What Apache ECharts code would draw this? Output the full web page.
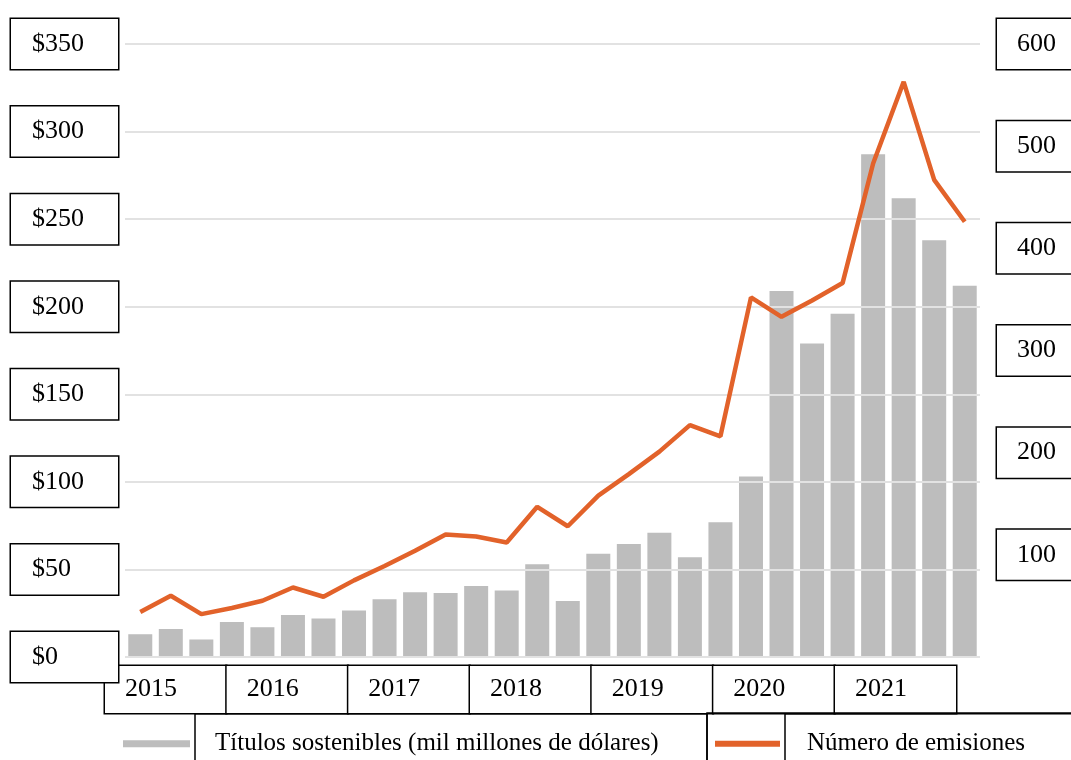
<!DOCTYPE html>
<html>
<head>
<meta charset="utf-8">
<script src="https://cdn.jsdelivr.net/npm/echarts@6/dist/echarts.min.js"></script>
<style>
  html, body { margin: 0; padding: 0; background: #fff; }
  #chart { width: 1071px; height: 760px; }
</style>
</head>
<body>
<div id="chart"></div>
<script>
const quarters = [
  '2015T1', '2015T2', '2015T3', '2015T4',
  '2016T1', '2016T2', '2016T3', '2016T4',
  '2017T1', '2017T2', '2017T3', '2017T4',
  '2018T1', '2018T2', '2018T3', '2018T4',
  '2019T1', '2019T2', '2019T3', '2019T4',
  '2020T1', '2020T2', '2020T3', '2020T4',
  '2021T1', '2021T2', '2021T3', '2021T4',
];
// miles de millones de dólares
const bonds = [
  13, 16, 10, 20, 17, 24, 22, 26.5,
  33, 37, 36.5, 40.5, 38, 53, 32, 59,
  64.5, 71, 57, 77, 103, 209, 179, 196,
  287, 262, 238, 212,
];
// número de emisiones
const issues = [
  44, 60, 42, 48, 55, 68, 59, 75,
  89, 104, 120, 118, 112, 147, 128, 158,
  179, 201, 227, 216, 352, 333, 349, 366,
  483, 563, 467, 426,
];
const years = ['2015', '2016', '2017', '2018', '2019', '2020', '2021'];
const barName = 'Títulos sostenibles (mil millones de dólares)';
const lineName = 'Número de emisiones';

const chart = () => {
  const block = document.getElementById('chart');
  const serif = 'Liberation Serif';

  const boxLabel = {
    fontFamily: serif,
    fontSize: 26,
    color: '#000',
    backgroundColor: '#fff',
    borderColor: '#000',
    borderWidth: 1.5,
  };

  const option = {
    animation: false,
    grid: [
      { left: 125, right: 91, top: 44, bottom: 103, containLabel: false, outerBoundsMode: 'none' },
      // year boxes start at each tick, one box per year
      { left: 105, right: 236, top: 44, bottom: 103, containLabel: false, outerBoundsMode: 'none' },
    ],
    legend: [
      {
        left: 123,
        top: 713,
        padding: 0,
        itemWidth: 67,
        itemHeight: 7,
        icon: 'rect',
        data: [barName],
        textStyle: {
          fontFamily: serif,
          fontSize: 25,
          color: '#000',
          borderColor: '#000',
          borderWidth: 1.5,
          width: 492,
          padding: [13, 0, 22, 20],
        },
      },
      {
        left: 707,
        top: 713,
        padding: [0, 0, 0, 8],
        borderColor: '#000',
        borderWidth: 1.5,
        itemWidth: 65,
        itemHeight: 6,
        icon: 'rect',
        data: [lineName],
        textStyle: {
          fontFamily: serif,
          fontSize: 25,
          color: '#000',
          borderColor: '#000',
          borderWidth: 1.5,
          width: 300,
          padding: [13, 0, 22, 22],
        },
      },
    ],
    xAxis: [
      {
        type: 'category',
        gridIndex: 0,
        data: quarters,
        axisLine: { show: false },
        axisTick: { show: false },
        axisLabel: { show: false },
      },
      {
        type: 'category',
        gridIndex: 1,
        boundaryGap: false,
        data: years,
        z: 2,
        axisLine: { show: false },
        axisTick: { show: false },
        axisLabel: {
          ...boxLabel,
          interval: 0,
          showMinLabel: true,
          showMaxLabel: true,
          align: 'left',
          verticalAlign: 'top',
          margin: 9,
          width: 101,
          padding: [10, 0, 11, 20],
        },
      },
    ],
    yAxis: [
      {
        type: 'value',
        gridIndex: 0,
        min: 0,
        max: 350,
        interval: 50,
        z: 3,
        axisLine: { show: false },
        axisTick: { show: false },
        splitLine: { lineStyle: { color: '#e2e2e2', width: 2 } },
        axisLabel: {
          ...boxLabel,
          formatter: (v) => '$' + v,
          showMinLabel: true,
          showMaxLabel: true,
          align: 'left',
          margin: 114,
          width: 86,
          padding: [12, 0, 12, 21],
        },
      },
      {
        type: 'value',
        gridIndex: 0,
        min: 0,
        max: 600,
        interval: 100,
        position: 'right',
        z: 3,
        axisLine: { show: false },
        axisTick: { show: false },
        splitLine: { show: false },
        axisLabel: {
          ...boxLabel,
          showMinLabel: false,
          showMaxLabel: true,
          align: 'left',
          margin: 17,
          width: 80,
          padding: [12, 0, 12, 20],
        },
      },
      {
        type: 'value',
        gridIndex: 1,
        show: false,
      },
    ],
    series: [
      {
        name: barName,
        type: 'bar',
        xAxisIndex: 0,
        yAxisIndex: 0,
        data: bonds,
        barWidth: 24,
        itemStyle: { color: '#bdbdbd' },
      },
      {
        name: lineName,
        type: 'line',
        xAxisIndex: 0,
        yAxisIndex: 1,
        data: issues,
        symbol: 'none',
        lineStyle: { color: '#e2622a', width: 4.5 },
        itemStyle: { color: '#e2622a' },
      },
    ],
  };

  echarts.init(block, null, { renderer: 'canvas' }).setOption(option);
};

chart();
</script>
</body>
</html>
